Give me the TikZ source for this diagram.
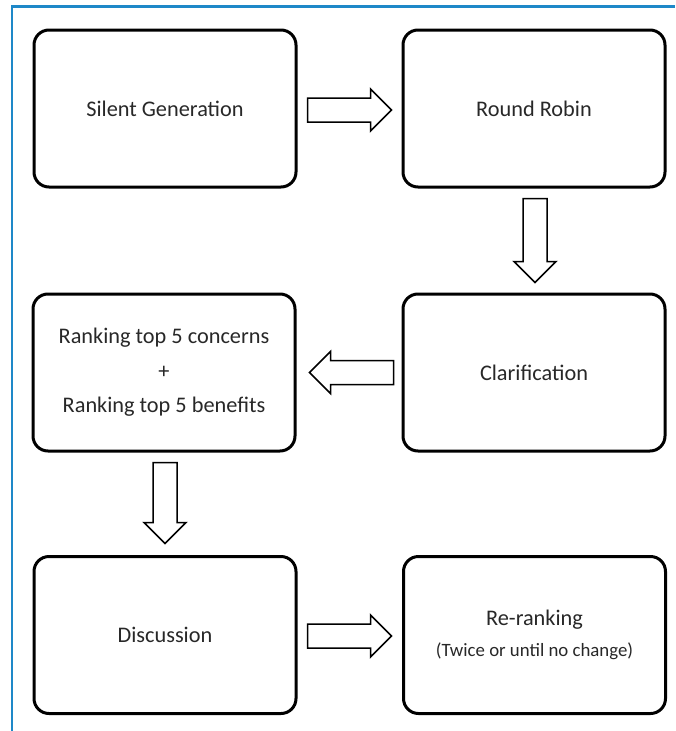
\documentclass[tikz,border=0pt]{standalone}
\usepackage{fontspec}
\setmainfont{Carlito}
\usetikzlibrary{calc}
\definecolor{frameblue}{RGB}{30,136,200}
\definecolor{txtgray}{RGB}{40,40,40}
\tikzset{
  x=1pt, y=-1pt,
  stepbox/.style={draw=black, line width=3pt, rounded corners=15pt,
    minimum width=262pt, minimum height=157pt, inner sep=0pt,
    align=center, text=txtgray,
    font=\fontsize{22.3}{34.5}\selectfont},
  blockarr/.style={draw=black, line width=1.5pt, fill=white, line join=miter},
  pics/barrow/.style={code={
    \draw[blockarr] (0,-12) -- ({#1-21},-12) -- ({#1-21},-21) -- (#1,0)
      -- ({#1-21},21) -- ({#1-21},12) -- (0,12) -- cycle;}},
}
\begin{document}
\begin{tikzpicture}
\useasboundingbox (0,0) rectangle (675,731);
\fill[white] (0,0) rectangle (675,731);
% frame lines
\draw[frameblue, line width=2.5pt] (12,731) -- (12,6.5) -- (675,6.5);

% boxes
\node[stepbox] (sg)  at (165,108.5) {Silent Generation};
\node[stepbox] (rr)  at (534,108.5) {Round Robin};
\node[stepbox] (cl)  at (534,372.5) {Clarification};
\node[stepbox] (rk)  at (164,372.5) {Ranking top 5 concerns\\+\\Ranking top 5 benefits};
\node[stepbox] (di)  at (165,635)   {Discussion};
\node[stepbox] (rrk) at (534.5,635) {Re-ranking\\[-4pt]{\fontsize{18.8}{20}\selectfont (Twice or until no change)}};

% block arrows
\pic at ($(sg.east)+(10,1.5)$) {barrow=84};
\pic[rotate=-90] at ($(rr.south)+(1,10)$) {barrow=84};
\pic[rotate=180] at ($(cl.west)+(-8,0)$) {barrow=84};
\pic[rotate=-90] at ($(rk.south)+(1,10)$) {barrow=81};
\pic at ($(di.east)+(10,1)$) {barrow=84};
\end{tikzpicture}
\end{document}
